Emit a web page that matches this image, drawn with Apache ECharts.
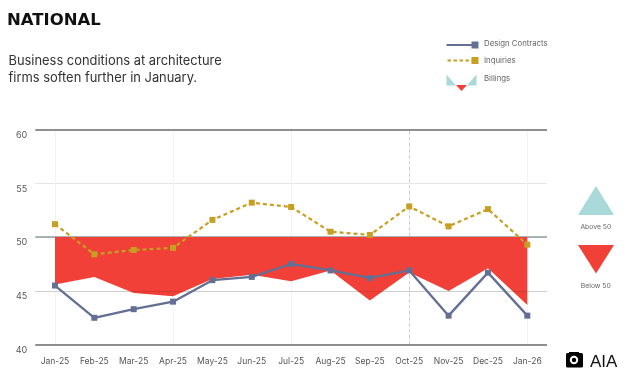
<!DOCTYPE html>
<html><head><meta charset="utf-8">
<style>html,body{margin:0;padding:0;background:#fff}#c{width:630px;height:385px}</style>
<script src="https://cdn.jsdelivr.net/npm/echarts@6/dist/echarts.min.js"></script>
</head><body><div id="c"></div>
<script>
const months=['Jan-25','Feb-25','Mar-25','Apr-25','May-25','Jun-25','Jul-25','Aug-25','Sep-25','Oct-25','Nov-25','Dec-25','Jan-26'];
const billings=[45.6,46.3,44.8,44.5,46.1,46.5,45.9,46.9,44.1,46.7,45.0,47.1,43.7];
const designContracts=[45.5,42.5,43.3,44.0,46.0,46.3,47.5,46.9,46.2,46.9,42.7,46.7,42.7];
const inquiries=[51.2,48.4,48.8,49.0,51.6,53.2,52.8,50.5,50.2,52.85,51.0,52.6,49.3];
const yTicks=[40,45,50,55,60];
const heavyLines=[60,40];
const lightVerticals=['Jan-25','Apr-25','Jul-25','Jan-26'];
const dashedVertical='Oct-25';
const F='"Inter","Liberation Sans",sans-serif';
const chart=echarts.init(document.getElementById('c'),null,{renderer:'canvas'});
const txt=(x,y,s,size,color,extra)=>({type:'text',x,y,silent:true,style:Object.assign({text:s,font:size+'px '+F,fill:color},extra||{})});
const tri=(pts,fill)=>({type:'polygon',silent:true,shape:{points:pts},style:{fill}});
chart.setOption({
 animation:false,
 grid:{left:35.3,top:129.5,width:511.7,height:215.2,containLabel:false},
 xAxis:{type:'category',data:months,boundaryGap:true,
  axisLine:{show:false},axisTick:{show:false},splitLine:{show:false},
  axisLabel:{interval:0,color:'#555',fontSize:8.5,fontFamily:F,margin:12}},
 yAxis:{type:'value',min:40,max:60,interval:5,
  axisLine:{show:false},axisTick:{show:false},
  splitLine:{show:true,lineStyle:{color:'#e6e6e6',width:1}},
  axisLabel:{color:'#555',fontSize:9,fontFamily:F,margin:8,
   formatter:v=>yTicks.includes(v)?String(v):'',verticalAlign:'top',padding:[1,0,0,0]}},
 series:[
  {name:'Billings',type:'line',data:billings,symbol:'none',z:2,
   lineStyle:{width:0},areaStyle:{origin:50,color:'#f04037',opacity:1},
   markLine:{silent:true,symbol:'none',label:{show:false},z:1,animation:false,data:[
     ...lightVerticals.map(m=>({xAxis:m,lineStyle:{color:'#f3f3f3',width:1,type:'solid'}})),
     {xAxis:dashedVertical,lineStyle:{color:'#cfcfcf',width:1,type:'dashed'}},
     ...heavyLines.map(v=>({yAxis:v,lineStyle:{color:'#6e6e6e',width:1.5,type:'solid'}})),
     {yAxis:50,lineStyle:{color:'#8e9a9c',width:1.5,type:'solid'}}
   ]}},
  {name:'Design Contracts',type:'line',data:designContracts,z:4,symbol:'rect',symbolSize:6,
   lineStyle:{color:'#646f94',width:2.3},itemStyle:{color:'#646f94'},
   markLine:{silent:true,symbol:'none',label:{show:false},z:3,animation:false,
     data:[{yAxis:45,lineStyle:{color:'rgba(0,0,0,0.1)',width:1,type:'solid'}}]}},
  {name:'Inquiries',type:'line',data:inquiries,z:5,symbol:'rect',symbolSize:6,
   lineStyle:{color:'#c79f22',width:2.2,type:[4,3]},itemStyle:{color:'#c79f22'}}
 ],
 graphic:[
  txt(7,12.5,'NATIONAL',16.5,'#111',{font:'bold 16.5px "DejaVu Sans",sans-serif',letterSpacing:0.5}),
  txt(8.5,54.5,'Business conditions at architecture',12.9,'#333'),
  txt(8.5,71.5,'firms soften further in January.',12.9,'#333'),
  {type:'line',silent:true,shape:{x1:446.5,y1:45,x2:472,y2:45},style:{stroke:'#646f94',lineWidth:2}},
  {type:'rect',silent:true,shape:{x:471.5,y:41.5,width:7,height:7},style:{fill:'#646f94'}},
  {type:'line',silent:true,shape:{x1:447.5,y1:60.5,x2:472,y2:60.5},style:{stroke:'#c79f22',lineWidth:1.8,lineDash:[3.5,2.5]}},
  {type:'rect',silent:true,shape:{x:471.5,y:57,width:7,height:7},style:{fill:'#c79f22'}},
  txt(484,39.5,'Design Contracts',7.8,'#666'),
  txt(484,57,'Inquiries',7.8,'#666'),
  txt(484,74.5,'Billings',7.8,'#666'),
  tri([[446.5,74.5],[446.5,85.5],[456,85.5]],'#a9d9d9'),
  tri([[476.5,74.5],[476.5,85.5],[467,85.5]],'#a9d9d9'),
  tri([[456,85],[467,85],[461.5,91]],'#f04037'),
  tri([[596,186],[578,215],[614,215]],'#a9d9d9'),
  txt(595.8,223.5,'Above 50',6.8,'#666',{textAlign:'center'}),
  tri([[578,245],[614,245],[596,273.5]],'#f04037'),
  txt(595.8,282,'Below 50',6.8,'#666',{textAlign:'center'}),
  {type:'rect',silent:true,shape:{x:566,y:353,width:17,height:14.5,r:1.5},style:{fill:'#000'}},
  {type:'rect',silent:true,shape:{x:569,y:352,width:10,height:2},style:{fill:'#000'}},
  {type:'circle',silent:true,shape:{cx:574,cy:360,r:4.2},style:{fill:'#fff'}},
  {type:'circle',silent:true,shape:{cx:574,cy:360,r:2.2},style:{fill:'#000'}},
  txt(590,354,'AIA',17,'#111',{font:'17px "Liberation Sans",sans-serif'})
 ]
});
</script></body></html>
